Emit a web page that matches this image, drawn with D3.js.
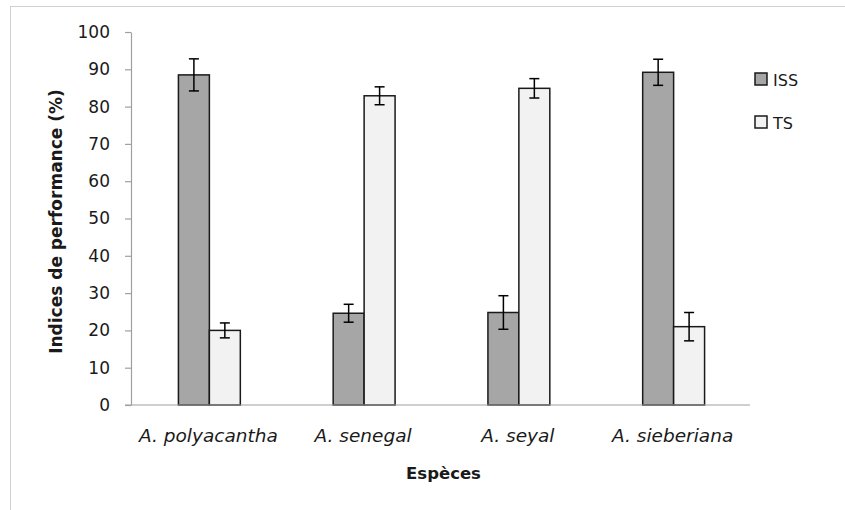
<!DOCTYPE html>
<html>
<head>
<meta charset="utf-8">
<script src="https://cdn.jsdelivr.net/npm/d3@7/dist/d3.min.js"></script>
<style>
  html, body { margin: 0; padding: 0; background: #fff; }
  svg { display: block; font-family: "DejaVu Sans", sans-serif; }
</style>
</head>
<body>
<svg id="chart" width="845" height="510"></svg>
<script>
const categories = ["A. polyacantha", "A. senegal", "A. seyal", "A. sieberiana"];
const seriesNames = ["ISS", "TS"];
const issValues = [88.5, 24.6, 24.8, 89.2];
const issErrors = [4.3, 2.4, 4.5, 3.5];
const tsValues = [20.0, 82.9, 84.9, 21.0];
const tsErrors = [2.0, 2.4, 2.6, 3.8];
const yTicks = [0, 10, 20, 30, 40, 50, 60, 70, 80, 90, 100];
const xTitle = "Espèces";
const yTitle = "Indices de performance (%)";

const colors = { ISS: "#a6a6a6", TS: "#f2f2f2" };

const svg = d3.select("#chart");

// outer chart border
svg.append("rect")
  .attr("x", 10.5).attr("y", 6.5)
  .attr("width", 900).attr("height", 600)
  .attr("fill", "none").attr("stroke", "#d0d0d0").attr("stroke-width", 1);

const plotLeft = 131, plotRight = 750, plotTop = 32, plotBottom = 405;

const y = d3.scaleLinear().domain([0, 100]).range([plotBottom, plotTop]);
const x0 = d3.scaleBand().domain(categories).range([plotLeft, plotRight])
  .paddingInner(0.6).paddingOuter(0.3);
const x1 = d3.scaleBand().domain(seriesNames).range([0, x0.bandwidth()]).padding(0);

const data = categories.map((c, i) => ({
  cat: c,
  vals: [
    { s: "ISS", v: issValues[i], e: issErrors[i] },
    { s: "TS", v: tsValues[i], e: tsErrors[i] }
  ]
}));

// bars
const groups = svg.append("g").selectAll("g").data(data).join("g")
  .attr("transform", d => `translate(${x0(d.cat) + 1},0)`);

groups.selectAll("rect").data(d => d.vals).join("rect")
  .attr("x", d => x1(d.s))
  .attr("y", d => y(d.v))
  .attr("width", x1.bandwidth())
  .attr("height", d => y(0) - y(d.v))
  .attr("fill", d => colors[d.s])
  .attr("stroke", "#1a1a1a")
  .attr("stroke-width", 1.5);

// error bars
const eb = groups.selectAll("g.err").data(d => d.vals).join("g").attr("class", "err")
  .attr("stroke", "#000").attr("stroke-width", 1.5);
eb.append("line")
  .attr("x1", d => x1(d.s) + x1.bandwidth() / 2)
  .attr("x2", d => x1(d.s) + x1.bandwidth() / 2)
  .attr("y1", d => y(d.v + d.e)).attr("y2", d => y(d.v - d.e));
eb.append("line")
  .attr("x1", d => x1(d.s) + x1.bandwidth() / 2 - 5)
  .attr("x2", d => x1(d.s) + x1.bandwidth() / 2 + 5)
  .attr("y1", d => y(d.v + d.e)).attr("y2", d => y(d.v + d.e));
eb.append("line")
  .attr("x1", d => x1(d.s) + x1.bandwidth() / 2 - 5)
  .attr("x2", d => x1(d.s) + x1.bandwidth() / 2 + 5)
  .attr("y1", d => y(d.v - d.e)).attr("y2", d => y(d.v - d.e));

// y axis
const yAxis = svg.append("g").attr("transform", `translate(${plotLeft},0)`)
  .call(d3.axisLeft(y).tickValues(yTicks).tickSize(6).tickSizeOuter(0).tickPadding(15));
yAxis.select(".domain").attr("stroke", "#a0a0a0").attr("stroke-width", 1.2);
yAxis.selectAll(".tick line").attr("stroke", "#a0a0a0").attr("stroke-width", 1.2);
yAxis.selectAll(".tick text").attr("font-size", 17).attr("fill", "#1a1a1a")
  .attr("font-family", "DejaVu Sans");

// x axis
const xAxis = svg.append("g").attr("transform", `translate(0,${plotBottom})`)
  .call(d3.axisBottom(x0).tickSize(0).tickSizeOuter(0).tickPadding(24));
xAxis.select(".domain").attr("stroke", "#a0a0a0").attr("stroke-width", 1.2)
  .attr("d", `M${plotLeft - 6},0H${plotRight}`);
xAxis.selectAll(".tick text").attr("font-size", 18.5).attr("font-style", "italic")
  .attr("fill", "#1a1a1a").attr("font-family", "DejaVu Sans");

// axis titles
svg.append("text")
  .attr("x", (plotLeft + plotRight) / 2 + 3).attr("y", 479)
  .attr("text-anchor", "middle").attr("font-weight", "bold").attr("font-size", 16.5)
  .attr("fill", "#1a1a1a").text(xTitle);
svg.append("text")
  .attr("transform", `translate(62,${(plotTop + plotBottom) / 2 + 3}) rotate(-90)`)
  .attr("text-anchor", "middle").attr("font-weight", "bold").attr("font-size", 17)
  .attr("fill", "#1a1a1a").text(yTitle);

// legend
const legend = svg.append("g").selectAll("g").data(seriesNames).join("g")
  .attr("transform", (d, i) => `translate(755,${73 + i * 43})`);
legend.append("rect").attr("width", 12).attr("height", 12)
  .attr("fill", d => colors[d]).attr("stroke", "#1a1a1a").attr("stroke-width", 1.5);
legend.append("text").attr("x", 18).attr("y", 12.5).attr("font-size", 16)
  .attr("fill", "#1a1a1a").text(d => d);
</script>
</body>
</html>
